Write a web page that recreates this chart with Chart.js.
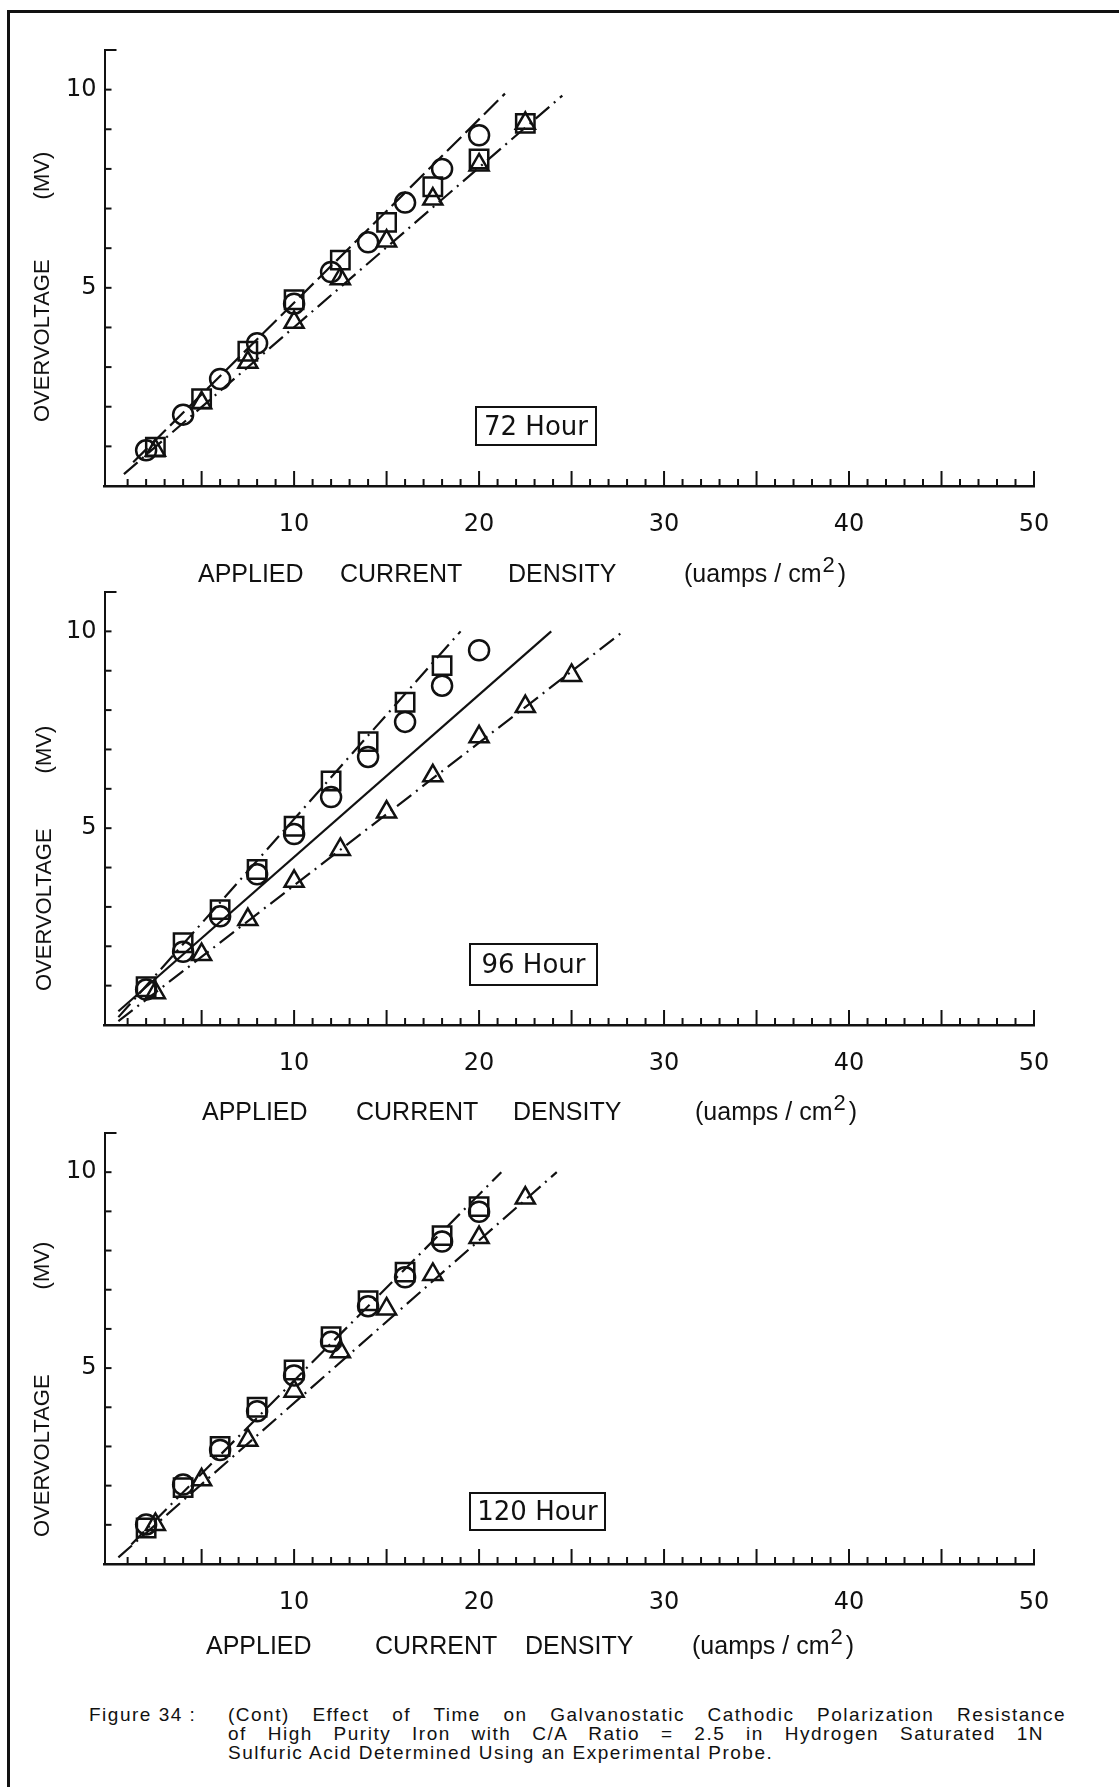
<!DOCTYPE html>
<html>
<head>
<meta charset="utf-8">
<script src="https://cdn.jsdelivr.net/npm/chart.js@4.4.0/dist/chart.umd.min.js"></script>
<style>
  body { margin: 0; background: #fff; }
  #page { position: relative; width: 1119px; height: 1787px; overflow: hidden; background: #fff; }
  canvas { position: absolute; left: 0; }
  .frame-top { position: absolute; left: 7px; top: 10px; width: 1112px; height: 3px; background: #111; }
  .frame-left { position: absolute; left: 7px; top: 10px; width: 3px; height: 1777px; background: #111; }
  .hour { position: absolute; border: 2.5px solid #111; font: 26px "DejaVu Sans", sans-serif; color: #111; text-align: center; }
  .cap { position: absolute; font: 19px "Liberation Sans", Arial, sans-serif; letter-spacing: 1.5px; color: #111; line-height: 20px; white-space: nowrap; }
  .just { text-align: justify; text-align-last: justify; }
</style>
</head>
<body>
<div id="page">
  <div class="frame-top"></div>
  <div class="frame-left"></div>
  <canvas id="c72" width="1119" height="620" style="top:0px"></canvas>
  <canvas id="c96" width="1119" height="620" style="top:542px"></canvas>
  <canvas id="c120" width="1119" height="620" style="top:1083px"></canvas>
  <div class="hour" style="left:475px;top:406px;width:118px;height:36px;line-height:36px">72 Hour</div>
  <div class="hour" style="left:469px;top:943px;width:125px;height:39px;line-height:39px">96 Hour</div>
  <div class="hour" style="left:469px;top:1492px;width:133px;height:35px;line-height:35px">120 Hour</div>
  <div class="cap" style="left:89px;top:1705px">Figure 34 :</div>
  <div class="cap just" style="left:228px;top:1705px;width:838px">(Cont) Effect of Time on Galvanostatic Cathodic Polarization Resistance</div>
  <div class="cap just" style="left:228px;top:1724px;width:816px">of High Purity Iron with C/A Ratio = 2.5 in Hydrogen Saturated 1N</div>
  <div class="cap" style="left:228px;top:1743px">Sulfuric Acid Determined Using an Experimental Probe.</div>
</div>
<script>
// axis labels
const xTickLabels = [10, 20, 30, 40, 50];
const yTickLabels = [5, 10];

// 72 hour
const circ72X = [2, 4, 6, 8, 10, 12, 14, 16, 18, 20];
const circ72Y = [0.9, 1.8, 2.7, 3.6, 4.6, 5.4, 6.15, 7.15, 8.0, 8.85];
const sq72X = [2.5, 5, 7.5, 10, 12.5, 15, 17.5, 20, 22.5];
const sq72Y = [0.98, 2.2, 3.4, 4.7, 5.7, 6.65, 7.55, 8.25, 9.15];
const tri72X = [2.5, 5, 7.5, 10, 12.5, 15, 17.5, 20, 22.5];
const tri72Y = [0.9, 2.1, 3.12, 4.13, 5.23, 6.18, 7.24, 8.1, 9.15];
const fitA72X = [1.3, 21.4];
const fitA72Y = [0.6, 9.9];
const fitB72X = [0.8, 24.5];
const fitB72Y = [0.3, 9.85];

// 96 hour
const sq96X = [2, 4, 6, 8, 10, 12, 14, 16, 18];
const sq96Y = [0.97, 2.09, 2.93, 3.95, 5.05, 6.2, 7.2, 8.2, 9.13];
const circ96X = [2, 4, 6, 8, 10, 12, 14, 16, 18, 20];
const circ96Y = [0.9, 1.86, 2.76, 3.83, 4.85, 5.79, 6.81, 7.7, 8.62, 9.52];
const tri96X = [2.5, 5, 7.5, 10, 12.5, 15, 17.5, 20, 22.5, 25];
const tri96Y = [0.82, 1.79, 2.68, 3.65, 4.46, 5.41, 6.33, 7.32, 8.09, 8.88];
const fitSq96X = [0.5, 19.0];
const fitSq96Y = [0.2, 10.0];
const fitMid96X = [0.5, 23.9];
const fitMid96Y = [0.35, 10.0];
const fitTri96X = [0.5, 27.8];
const fitTri96Y = [0.1, 10.0];

// 120 hour
const circ120X = [2, 4, 6, 8, 10, 12, 14, 16, 18, 20];
const circ120Y = [1.01, 2.03, 2.91, 3.9, 4.81, 5.67, 6.58, 7.32, 8.23, 8.99];
const sq120X = [2, 4, 6, 8, 10, 12, 14, 16, 18, 20];
const sq120Y = [0.92, 1.95, 3.0, 4.0, 4.95, 5.8, 6.72, 7.45, 8.38, 9.12];
const tri120X = [2.5, 5, 7.5, 10, 12.5, 15, 17.5, 20, 22.5];
const tri120Y = [1.01, 2.15, 3.16, 4.41, 5.42, 6.51, 7.39, 8.33, 9.34];
const fitA120X = [1.2, 21.2];
const fitA120Y = [0.5, 10.0];
const fitB120X = [0.5, 24.2];
const fitB120Y = [0.17, 10.0];

const INK = '#111';
const DASH_DOT = [18, 6, 2, 6];

function pts(xs, ys) {
  return xs.map((x, i) => ({ x: x, y: ys[i] }));
}

function markers(xs, ys, style, radius) {
  return {
    data: pts(xs, ys),
    showLine: false,
    pointStyle: style,
    pointRadius: radius,
    pointBorderColor: INK,
    pointBackgroundColor: 'rgba(0,0,0,0)',
    pointBorderWidth: 2.5,
    order: 1
  };
}

function fitLine(xs, ys, dash) {
  return {
    data: pts(xs, ys),
    showLine: true,
    borderColor: INK,
    borderWidth: 2.2,
    borderDash: dash,
    pointRadius: 0,
    order: 2
  };
}

// tick marks pointing inward, drawn from the library's own tick positions
const innerTicks = {
  id: 'innerTicks',
  afterDraw(chart) {
    const { ctx, chartArea, scales: { x, y } } = chart;
    ctx.save();
    ctx.strokeStyle = INK;
    ctx.lineWidth = 2;
    x.ticks.forEach((t, i) => {
      if (t.value <= 0) return;
      const px = x.getPixelForTick(i);
      const len = t.value % 5 === 0 ? 15 : 7;
      ctx.beginPath();
      ctx.moveTo(px, chartArea.bottom);
      ctx.lineTo(px, chartArea.bottom - len);
      ctx.stroke();
    });
    y.ticks.forEach((t, i) => {
      if (t.value <= 0) return;
      const py = y.getPixelForTick(i);
      const len = t.value === y.max ? 12 : 7;
      ctx.beginPath();
      ctx.moveTo(chartArea.left, py);
      ctx.lineTo(chartArea.left + len, py);
      ctx.stroke();
    });
    ctx.restore();
  }
};

// axis titles, placed like the original typesetting
const axisTitles = {
  id: 'axisTitles',
  afterDraw(chart, args, opts) {
    const ctx = chart.ctx;
    ctx.save();
    ctx.fillStyle = INK;
    ctx.font = '25px "Liberation Sans", Arial, sans-serif';
    ctx.textBaseline = 'middle';
    ctx.textAlign = 'left';
    const ty = opts.titleY;
    const w = opts.words;
    ctx.fillText('APPLIED', w[0], ty);
    ctx.fillText('CURRENT', w[1], ty);
    ctx.fillText('DENSITY', w[2], ty);
    const part = '(uamps / cm';
    ctx.fillText(part, w[3], ty);
    let cx = w[3] + ctx.measureText(part).width;
    ctx.font = '22px "Liberation Sans", Arial, sans-serif';
    ctx.fillText('2', cx + 1, ty - 9);
    cx += ctx.measureText('2').width + 4;
    ctx.font = '25px "Liberation Sans", Arial, sans-serif';
    ctx.fillText(')', cx, ty);

    // vertical label
    ctx.font = '22px "Liberation Sans", Arial, sans-serif';
    ctx.translate(opts.yLabelX, opts.yLabelBottom);
    ctx.rotate(-Math.PI / 2);
    ctx.fillText('OVERVOLTAGE', 0, 0);
    const ow = ctx.measureText('OVERVOLTAGE').width;
    ctx.fillText('(MV)', ow + opts.yLabelGap, 0);
    ctx.restore();
  }
};

function makePanel(id, canvasTop, areaTop, areaBottom, datasets, titleOpts) {
  const ctx = document.getElementById(id).getContext('2d');
  const padTop = areaTop - canvasTop;
  const xAxisHeight = 620 - padTop - (areaBottom - areaTop);
  new Chart(ctx, {
    type: 'scatter',
    data: { datasets: datasets },
    options: {
      responsive: false,
      animation: false,
      devicePixelRatio: 1,
      layout: { padding: { top: padTop, right: 85, left: 0, bottom: 0 } },
      plugins: {
        legend: { display: false },
        tooltip: { enabled: false },
        axisTitles: Object.assign({}, titleOpts, {
          titleY: titleOpts.titleY - canvasTop,
          yLabelBottom: titleOpts.yLabelBottom - canvasTop
        })
      },
      scales: {
        x: {
          type: 'linear',
          min: -0.25,
          max: 50,
          afterFit: (s) => { s.height = xAxisHeight; },
          grid: { display: false, drawTicks: false },
          border: { display: true, color: INK, width: 2.5 },
          ticks: {
            stepSize: 1,
            autoSkip: false,
            maxRotation: 0,
            padding: 24,
            color: INK,
            font: { family: 'DejaVu Sans', size: 24 },
            callback: (v) => xTickLabels.includes(v) ? String(v) : ''
          }
        },
        y: {
          type: 'linear',
          min: 0,
          max: 11,
          afterFit: (s) => { s.width = 104.5; },
          grid: { display: false, drawTicks: false },
          border: { display: true, color: INK, width: 2, dash: [9, 4] },
          ticks: {
            stepSize: 1,
            autoSkip: false,
            padding: 8,
            color: INK,
            font: { family: 'DejaVu Sans', size: 24 },
            callback: (v) => yTickLabels.includes(v) ? String(v) : ''
          }
        }
      }
    },
    plugins: [innerTicks, axisTitles]
  });
}

makePanel('c72', 0, 50, 486, [
  fitLine(fitA72X, fitA72Y, [20, 6]),
  fitLine(fitB72X, fitB72Y, DASH_DOT),
  markers(circ72X, circ72Y, 'circle', 10),
  markers(sq72X, sq72Y, 'rect', 13),
  markers(tri72X, tri72Y, 'triangle', 11)
], { titleY: 575, words: [198, 340, 508, 684], yLabelX: 43, yLabelBottom: 422, yLabelGap: 60 });

makePanel('c96', 542, 592, 1025, [
  fitLine(fitSq96X, fitSq96Y, DASH_DOT),
  fitLine(fitMid96X, fitMid96Y, []),
  fitLine(fitTri96X, fitTri96Y, DASH_DOT),
  markers(sq96X, sq96Y, 'rect', 13),
  markers(circ96X, circ96Y, 'circle', 10),
  markers(tri96X, tri96Y, 'triangle', 11)
], { titleY: 1113, words: [202, 356, 513, 695], yLabelX: 45, yLabelBottom: 991, yLabelGap: 55 });

makePanel('c120', 1083, 1133, 1564, [
  fitLine(fitA120X, fitA120Y, DASH_DOT),
  fitLine(fitB120X, fitB120Y, DASH_DOT),
  markers(sq120X, sq120Y, 'rect', 13),
  markers(circ120X, circ120Y, 'circle', 10),
  markers(tri120X, tri120Y, 'triangle', 11)
], { titleY: 1647, words: [206, 375, 525, 692], yLabelX: 43, yLabelBottom: 1537, yLabelGap: 85 });
</script>
</body>
</html>
